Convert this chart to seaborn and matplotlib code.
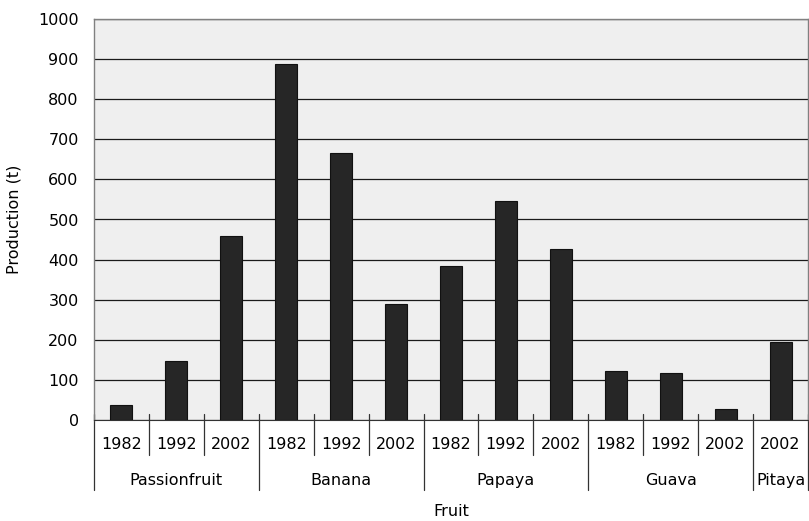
import matplotlib
matplotlib.use("Agg", force=True)
import matplotlib.pyplot as plt
import matplotlib.transforms as mtransforms
import pandas as pd
import seaborn as sns

fruits = ["Passionfruit", "Banana", "Papaya", "Guava", "Pitaya"]
years = [["1982", "1992", "2002"], ["1982", "1992", "2002"], ["1982", "1992", "2002"],
         ["1982", "1992", "2002"], ["2002"]]
production = [[37, 148, 459], [888, 666, 290], [384, 545, 427], [121, 117, 27], [194]]


def main() -> None:
    rows = []
    for fruit, ys, vals in zip(fruits, years, production):
        for y, v in zip(ys, vals):
            rows.append({"fruit": fruit, "year": y, "key": f"{fruit} {y}", "production": v})
    df = pd.DataFrame(rows)

    sns.set_style("white")
    plt.rcParams["font.family"] = ["DejaVu Sans"]
    plt.rcParams["text.color"] = "black"
    plt.rcParams["axes.labelcolor"] = "black"
    plt.rcParams["ytick.color"] = "black"
    fs = 11.5

    fig = plt.figure(figsize=(8.09, 5.21), dpi=100)
    ax = fig.add_axes([94 / 809, 101 / 521, 714 / 809, 401 / 521])
    ax.set_facecolor("#efefef")

    sns.barplot(data=df, x="key", y="production", order=list(df["key"]),
                color="#262626", width=0.4, edgecolor="#111111", linewidth=0.8,
                saturation=1, ax=ax, zorder=3)

    ax.set_ylim(0, 1000)
    ax.set_xlim(-0.5, len(df) - 0.5)
    ax.set_yticks(range(0, 1001, 100))
    ax.yaxis.grid(True, color="#1a1a1a", linewidth=0.9, zorder=1)
    ax.set_axisbelow(True)
    ax.tick_params(axis="y", length=0, pad=11, labelsize=fs, labelcolor="black")
    ax.set_xticks([])
    ax.set_xlabel("")
    ax.set_ylabel("Production (t)", fontsize=fs, labelpad=12, color="black")
    for s in ["left", "right", "top"]:
        ax.spines[s].set_color("#808080")
        ax.spines[s].set_linewidth(1)
    ax.spines["bottom"].set_color("#333333")

    trans = mtransforms.blended_transform_factory(ax.transData, ax.transAxes)
    pos = 0
    for fruit, ys in zip(fruits, years):
        start = pos
        for y in ys:
            ax.text(pos, -0.06, y, transform=trans, ha="center", va="center", fontsize=fs)
            if pos != start:
                ax.plot([pos - 0.5, pos - 0.5], [0.015, -0.087], transform=trans,
                        color="#333333", linewidth=0.9, clip_on=False)
            pos += 1
        ax.plot([start - 0.5, start - 0.5], [0.015, -0.175], transform=trans,
                color="#333333", linewidth=0.9, clip_on=False)
        ax.text((start + pos - 1) / 2, -0.152, fruit, transform=trans,
                ha="center", va="center", fontsize=fs)
    ax.plot([pos - 0.5, pos - 0.5], [0.015, -0.175], transform=trans,
            color="#333333", linewidth=0.9, clip_on=False)

    ax.text(0.5, -0.228, "Fruit", transform=ax.transAxes, ha="center", va="center", fontsize=fs)

    fig.savefig("out.png", dpi=100)
    plt.close(fig)


if __name__ == "__main__":
    main()
